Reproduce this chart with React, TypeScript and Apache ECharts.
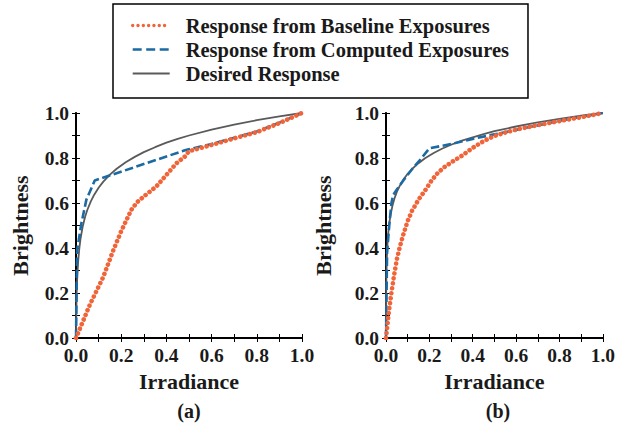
import React, { useEffect, useRef } from "react";
import * as echarts from "echarts";

const SERIES_NAMES = [
  "Response from Baseline Exposures",
  "Response from Computed Exposures",
  "Desired Response",
];
const AXIS_TICKS = [0, 0.2, 0.4, 0.6, 0.8, 1.0];
const PANEL_LABELS = ["(a)", "(b)"];

// Panel (a)
const baselineA: [number, number][] = [
  [0, 0], [0.06, 0.145], [0.12, 0.27], [0.165, 0.39], [0.2, 0.475], [0.245, 0.57],
  [0.27, 0.603], [0.31, 0.637], [0.356, 0.674], [0.4, 0.725], [0.445, 0.777],
  [0.482, 0.807], [0.5, 0.83], [0.6, 0.858], [0.7, 0.887], [0.8, 0.915],
  [0.9, 0.955], [1.0, 1.0],
];
const computedA: [number, number][] = [
  [0, 0], [0.005, 0.39], [0.024, 0.51], [0.046, 0.615], [0.083, 0.7],
  [0.49, 0.837], [0.6, 0.862], [0.7, 0.89], [0.8, 0.918], [0.9, 0.957], [1.0, 1.0],
];
const desiredA: [number, number][] = [
  [0, 0], [0.001, 0.1], [0.003, 0.2], [0.006, 0.282], [0.01, 0.347], [0.015, 0.401],
  [0.02, 0.441], [0.03, 0.497], [0.04, 0.538], [0.05, 0.569], [0.065, 0.606],
  [0.08, 0.636], [0.1, 0.668], [0.12, 0.694], [0.15, 0.726], [0.18, 0.752],
  [0.22, 0.781], [0.26, 0.805], [0.3, 0.826], [0.35, 0.848], [0.4, 0.868],
  [0.45, 0.885], [0.5, 0.9], [0.6, 0.926], [0.7, 0.948], [0.8, 0.968],
  [0.9, 0.985], [1.0, 1.0],
];

// Panel (b)
const baselineB: [number, number][] = [
  [0, 0], [0.007, 0.06], [0.015, 0.13], [0.025, 0.2], [0.035, 0.265], [0.05, 0.35],
  [0.065, 0.41], [0.08, 0.46], [0.1, 0.52], [0.12, 0.565], [0.15, 0.615],
  [0.18, 0.655], [0.21, 0.7], [0.24, 0.735], [0.27, 0.76], [0.3, 0.78],
  [0.35, 0.81], [0.4, 0.845], [0.45, 0.875], [0.5, 0.898], [0.55, 0.913],
  [0.6, 0.926], [0.7, 0.946], [0.8, 0.964], [0.9, 0.981], [1.0, 1.0],
];
const computedB: [number, number][] = [
  [0, 0], [0.005, 0.38], [0.015, 0.5], [0.025, 0.6], [0.033, 0.635], [0.05, 0.66],
  [0.08, 0.7], [0.12, 0.75], [0.16, 0.795], [0.2, 0.843], [0.3, 0.862],
  [0.4, 0.885], [0.5, 0.905], [0.6, 0.925], [0.7, 0.945], [0.8, 0.965],
  [0.9, 0.983], [1.0, 1.0],
];
const desiredB: [number, number][] = [
  [0, 0], [0.0005, 0.147], [0.001, 0.21], [0.002, 0.282], [0.004, 0.357],
  [0.007, 0.421], [0.01, 0.462], [0.015, 0.508], [0.02, 0.542], [0.03, 0.589],
  [0.04, 0.623], [0.05, 0.649], [0.065, 0.679], [0.08, 0.704], [0.1, 0.73],
  [0.12, 0.751], [0.15, 0.777], [0.18, 0.799], [0.22, 0.822], [0.26, 0.842],
  [0.3, 0.859], [0.35, 0.877], [0.4, 0.892], [0.45, 0.906], [0.5, 0.919],
  [0.6, 0.94], [0.7, 0.958], [0.8, 0.974], [0.9, 0.988], [1.0, 1.0],
];

const FONT = "Liberation Serif";
const ORANGE = "#ef6439";
const BLUE = "#1b6aa3";
const GRAY = "#5a5a5a";

export default function App() {
  const ref = useRef<HTMLDivElement>(null);

  useEffect(() => {
    if (!ref.current) return;
    const chart = echarts.init(ref.current, undefined, { renderer: "svg" });

    const grids = [
      { left: 76, top: 113, width: 226, height: 225 },
      { left: 386, top: 113, width: 225, height: 225 },
    ];

    const tickCommon = {
      show: true,
      inside: true,
      length: 4,
      lineStyle: { color: "#000", width: 1 },
    };
    const minorCommon = {
      show: true,
      splitNumber: 2,
      length: 4,
      lineStyle: { color: "#000", width: 1 },
    };
    const tickFont = {
      fontFamily: FONT,
      fontWeight: "bold",
      fontSize: 19.5,
      color: "#1a1a1a",
    };
    const labelCommon = {
      show: true,
      ...tickFont,
      margin: 7,
      formatter: (v: number) => v.toFixed(1),
    };
    const nameStyle = {
      fontFamily: FONT,
      fontWeight: "bold",
      fontSize: 22,
      color: "#1a1a1a",
    };

    const xAxes: any[] = [];
    const yAxes: any[] = [];
    [0, 1].forEach((g) => {
      xAxes.push({
        type: "value",
        gridIndex: g,
        min: AXIS_TICKS[0],
        max: AXIS_TICKS[AXIS_TICKS.length - 1],
        interval: 0.2,
        position: "bottom",
        name: "Irradiance",
        nameLocation: "middle",
        nameGap: 32,
        nameTextStyle: nameStyle,
        axisLine: { show: true, lineStyle: { color: "#000", width: 2 } },
        axisTick: tickCommon,
        minorTick: minorCommon,
        splitLine: { show: false },
        axisLabel: { ...labelCommon },
      });
      xAxes.push({
        type: "value",
        gridIndex: g,
        min: 0,
        max: 1,
        interval: 0.2,
        position: "top",
        axisLine: { show: true, lineStyle: { color: "#000", width: 1.5 } },
        axisTick: tickCommon,
        minorTick: minorCommon,
        splitLine: { show: false },
        axisLabel: { show: false },
      });
      yAxes.push({
        type: "value",
        gridIndex: g,
        min: 0,
        max: 1,
        interval: 0.2,
        position: "left",
        name: "Brightness",
        nameLocation: "middle",
        nameGap: g === 0 ? 45 : 52,
        nameRotate: 90,
        nameTextStyle: nameStyle,
        axisLine: { show: true, lineStyle: { color: "#000", width: 2 } },
        axisTick: tickCommon,
        minorTick: minorCommon,
        splitLine: { show: false },
        axisLabel: { ...labelCommon },
      });
      yAxes.push({
        type: "value",
        gridIndex: g,
        min: 0,
        max: 1,
        interval: 0.2,
        position: "right",
        axisLine: { show: true, lineStyle: { color: "#000", width: 1.5 } },
        axisTick: tickCommon,
        minorTick: minorCommon,
        splitLine: { show: false },
        axisLabel: { show: false },
      });
    });

    const dotted = {
      color: ORANGE,
      width: 4.6,
      type: [0.01, 5] as number[],
      cap: "round",
      join: "round",
    };
    const dashed = {
      color: BLUE,
      width: 2.6,
      type: [8.5, 3.5] as number[],
      cap: "butt",
    };
    const solid = { color: GRAY, width: 1.8, type: "solid" };

    const mk = (name: string, data: [number, number][], g: number, ls: any, z: number) => ({
      name,
      type: "line",
      xAxisIndex: g * 2,
      yAxisIndex: g * 2,
      data,
      showSymbol: false,
      symbol: "none",
      smooth: false,
      lineStyle: ls,
      itemStyle: { color: ls.color },
      z,
      silent: true,
    });

    const hiddenSymbol = { opacity: 0, borderWidth: 0 };

    const option: any = {
      animation: false,
      backgroundColor: "#fff",
      textStyle: { fontFamily: FONT, fontWeight: "bold" },
      grid: grids,
      xAxis: xAxes,
      yAxis: yAxes,
      legend: {
        orient: "vertical",
        left: 113,
        top: 4,
        itemWidth: 37,
        itemHeight: 14,
        itemGap: 3,
        padding: [11, 19, 14, 18],
        borderColor: "#000",
        borderWidth: 1.5,
        textStyle: {
          fontFamily: FONT,
          fontWeight: "bold",
          fontSize: 20.5,
          color: "#1a1a1a",
          lineHeight: 20.5,
          padding: [0, 0, 0, 11],
        },
        data: [
          {
            name: SERIES_NAMES[0],
            itemStyle: hiddenSymbol,
            lineStyle: { width: 3.4, type: [0.01, 5.3], cap: "round", color: ORANGE },
          },
          {
            name: SERIES_NAMES[1],
            itemStyle: hiddenSymbol,
            lineStyle: { width: 2.6, type: [9, 4.5], color: BLUE },
          },
          {
            name: SERIES_NAMES[2],
            itemStyle: hiddenSymbol,
            lineStyle: { width: 1.8, type: "solid", color: GRAY },
          },
        ],
        selectedMode: false,
      },
      graphic: PANEL_LABELS.map((t, i) => ({
        type: "text",
        x: i === 0 ? 189 : 498,
        y: 410.5,
        style: {
          text: t,
          fontFamily: FONT,
          fontWeight: "bold",
          fontSize: 20,
          fill: "#1a1a1a",
          textAlign: "center",
          textVerticalAlign: "middle",
        },
      })),
      series: [
        mk(SERIES_NAMES[2], desiredA, 0, solid, 2),
        mk(SERIES_NAMES[1], computedA, 0, dashed, 3),
        mk(SERIES_NAMES[0], baselineA, 0, dotted, 4),
        mk(SERIES_NAMES[2], desiredB, 1, solid, 2),
        mk(SERIES_NAMES[1], computedB, 1, dashed, 3),
        mk(SERIES_NAMES[0], baselineB, 1, dotted, 4),
      ],
    };

    chart.setOption(option);
    return () => chart.dispose();
  }, []);

  return (
    <div
      ref={ref}
      style={{ position: "fixed", left: 0, top: 0, width: 618, height: 423 }}
    />
  );
}
